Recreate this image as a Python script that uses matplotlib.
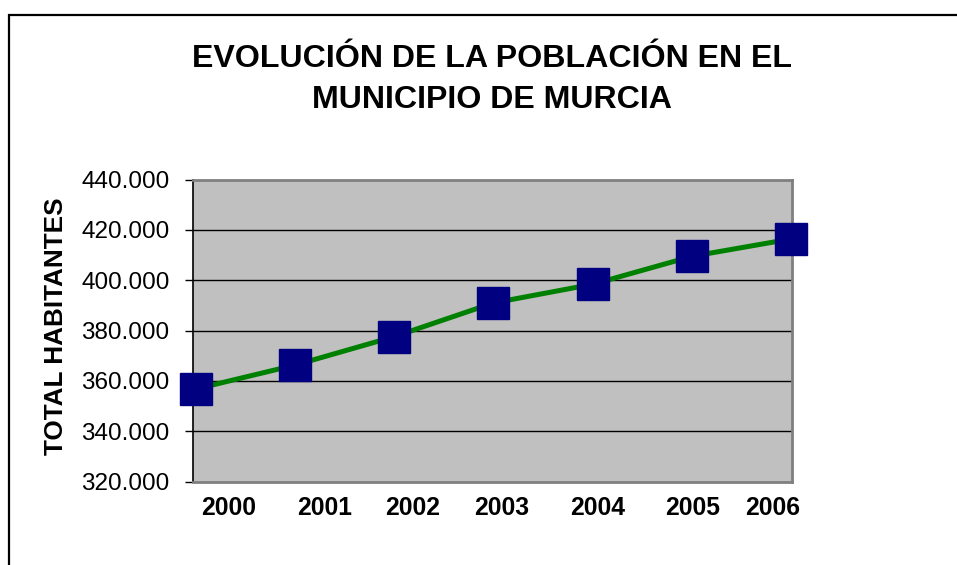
import matplotlib
matplotlib.use("Agg")
import matplotlib.pyplot as plt
import matplotlib.patches as patches
import numpy as np

# datos
years = ["2000", "2001", "2002", "2003", "2004", "2005", "2006"]
habitantes = [356800, 366300, 377600, 391000, 398400, 409500, 416400]
y_ticks = [320000, 340000, 360000, 380000, 400000, 420000, 440000]

# Excel dibuja las etiquetas un poco desplazadas respecto a los puntos
label_shift = [0.335, 0.30, 0.19, 0.085, 0.05, 0.01, -0.185]

W, H = 957, 565
plt.rcParams['font.family'] = ['Liberation Sans', 'DejaVu Sans']

fig = plt.figure(figsize=(W / 100, H / 100), dpi=100)
fig.patch.set_facecolor('white')

# marco exterior
frame = patches.Rectangle((9 / W, -0.05), 1.1, 0.05 + (H - 15) / H,
                          transform=fig.transFigure, fill=False,
                          edgecolor='black', lw=1.6)
fig.add_artist(frame)

ax = fig.add_axes([193 / W, 1 - 481.7 / H, 598.7 / W, 302.2 / H])
ax.set_facecolor('#C0C0C0')

x = np.arange(len(years))
ax.plot(x, habitantes, color='#008000', lw=3.6, zorder=3, clip_on=False)
ax.plot(x, habitantes, ls='none', marker='s', ms=22.5, color='#000080',
        zorder=4, clip_on=False)

ax.set_xlim(-0.027, 6.004)
ax.set_ylim(320000, 440000)

ax.set_yticks(y_ticks)
ax.set_yticklabels([f"{v:,}".replace(",", ".") for v in y_ticks], fontsize=17.5)
ax.tick_params(axis='y', length=6, width=1, pad=11, color='black')

ax.set_xticks(x + np.array(label_shift))
ax.set_xticklabels(years, fontsize=17.8, fontweight='bold')
ax.tick_params(axis='x', length=0, pad=10)

for v in y_ticks[1:-1]:
    ax.axhline(v, color='black', lw=1, zorder=1)

for s in ['top', 'right', 'bottom']:
    ax.spines[s].set_color('#808080')
    ax.spines[s].set_linewidth(2)
ax.spines['left'].set_color('black')
ax.spines['left'].set_linewidth(1.2)

# titulo
fig.text(492 / W, 1 - 67 / H, "EVOLUCIÓN DE LA POBLACIÓN EN EL",
         ha='center', va='baseline', fontsize=23.1, fontweight='bold')
fig.text(492 / W, 1 - 108.5 / H, "MUNICIPIO DE MURCIA",
         ha='center', va='baseline', fontsize=23.1, fontweight='bold')

# titulo eje y
fig.text(63 / W, 1 - 326 / H, "TOTAL HABITANTES", rotation=90,
         rotation_mode='anchor', ha='center', va='baseline',
         fontsize=18.8, fontweight='bold')

fig.savefig("out.png", dpi=100)
